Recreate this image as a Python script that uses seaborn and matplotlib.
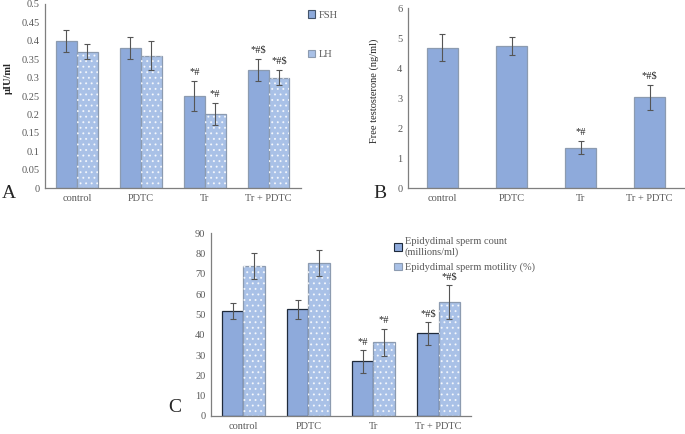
import matplotlib
matplotlib.use("Agg")
import matplotlib.pyplot as plt
import matplotlib.patches as mpatches
import numpy as np
import pandas as pd
import seaborn as sns

groups = ["control", "PDTC", "Tr", "Tr + PDTC"]

# panel A: gonadotropins (µIU/ml)
fsh = [0.40, 0.38, 0.25, 0.32]
fsh_err = [0.03, 0.03, 0.04, 0.03]
lh = [0.37, 0.36, 0.20, 0.30]
lh_err = [0.02, 0.04, 0.03, 0.02]
fsh_marks = ["", "", "*#", "*#$"]
lh_marks = ["", "", "*#", "*#$"]

# panel B: free testosterone (ng/ml)
testo = [4.67, 4.72, 1.34, 3.03]
testo_err = [0.45, 0.30, 0.22, 0.42]
testo_marks = ["", "", "*#", "*#$"]

# panel C: epididymal sperm
count = [51.7, 52.5, 26.9, 40.7]
count_err = [4.0, 4.5, 5.5, 5.5]
motility = [73.7, 75.4, 36.3, 56.0]
motility_err = [6.4, 6.2, 6.7, 8.4]
count_marks = ["", "", "*#", "*#$"]
motility_marks = ["", "", "*#", "*#$"]

sns.set_theme(style="white")
plt.rcParams["font.family"] = ["Liberation Serif", "DejaVu Serif"]
plt.rcParams["hatch.linewidth"] = 0.7

SOLID = "#8eaadb"
DOTTED = "#a9c1e7"
GREY = "#595959"
FS = 7.5
DOTS = "..."


def fmt(v, pos):
    return "%g" % round(v, 3)


def style_axes(ax, ymax, step):
    ax.set_ylim(0, ymax)
    ax.set_yticks(np.arange(0, ymax + step / 2, step))
    ax.yaxis.set_major_formatter(plt.FuncFormatter(fmt))
    ax.set_xlim(-0.5, 3.5)
    sns.despine(ax=ax)
    for s in ["left", "bottom"]:
        ax.spines[s].set_color("#7f7f7f")
        ax.spines[s].set_linewidth(0.9)
    ax.tick_params(axis="both", length=0, labelsize=FS, colors=GREY, pad=4)
    ax.set_xlabel("")
    ax.set_ylabel("")


def dot_overlay(ax, p):
    # white dots drawn on top, so the bar outline keeps its own colour
    ax.add_patch(mpatches.Rectangle((p.get_x(), p.get_y()), p.get_width(),
                                    p.get_height(), fill=False, lw=0,
                                    edgecolor=(1, 1, 1, 0.75), hatch=DOTS,
                                    zorder=p.get_zorder() + 0.1))


def grouped(ax, a, b, name_a, name_b, width, edge_a):
    df = pd.DataFrame({
        "group": groups * 2,
        "value": a + b,
        "series": [name_a] * 4 + [name_b] * 4,
    })
    sns.barplot(data=df, x="group", y="value", hue="series", order=groups,
                hue_order=[name_a, name_b], palette=[SOLID, DOTTED],
                width=width, errorbar=None, saturation=1, ax=ax, legend=False)
    bars = list(ax.patches[:8])
    for i, p in enumerate(bars):
        p.set_linewidth(0.9)
        if i < 4:
            p.set_edgecolor(edge_a)
        else:
            p.set_edgecolor("#8c9bb0")
            dot_overlay(ax, p)
    return bars


def add_err(ax, bars, vals, errs, marks, offset):
    for p, v, e, m in zip(bars, vals, errs, marks):
        cx = p.get_x() + p.get_width() / 2
        ax.errorbar(cx, v, yerr=e, fmt="none", ecolor="#555555",
                    elinewidth=0.8, capsize=2.5, capthick=0.8, zorder=5)
        if m:
            ax.text(cx, v + e + offset, m, ha="center", va="bottom",
                    fontsize=FS, color="#222222")


def legend_handles(edge_a):
    return [mpatches.Patch(facecolor=SOLID, edgecolor=edge_a, lw=0.8),
            mpatches.Patch(facecolor=DOTTED, edgecolor="#8c9bb0", lw=0.8)]


fig = plt.figure(figsize=(6.85, 4.34), dpi=100)

# ---- A
axA = fig.add_axes([0.0657, 0.5668, 0.373, 0.424])
bars = grouped(axA, fsh, lh, "FSH", "LH", 0.654, "#8c9bb0")
add_err(axA, bars[:4], fsh, fsh_err, fsh_marks, 0.012)
add_err(axA, bars[4:], lh, lh_err, lh_marks, 0.012)
style_axes(axA, 0.5, 0.05)
axA.set_ylabel("µIU/ml", fontsize=FS, fontweight="bold")
axA.yaxis.set_label_coords(-0.125, 0.60)
fig.legend(legend_handles("#44546a"), ["FSH", "LH"], loc="upper left",
           bbox_to_anchor=(0.436, 0.998), frameon=False, fontsize=FS,
           labelspacing=2.9, handlelength=0.7, handleheight=0.7,
           handletextpad=0.3, labelcolor=GREY)
fig.text(0.002, 0.553, "A", fontsize=14, va="center")

# ---- B
axB = fig.add_axes([0.5956, 0.5668, 0.4030, 0.4147])
sns.barplot(x=groups, y=testo, order=groups, color=SOLID, saturation=1,
            width=0.46, errorbar=None, ax=axB)
for p in axB.patches:
    p.set_edgecolor("#8c9bb0")
    p.set_linewidth(0.9)
add_err(axB, axB.patches[:4], testo, testo_err, testo_marks, 0.15)
style_axes(axB, 6, 1)
axB.set_ylabel("Free testosterone (ng/ml)", fontsize=FS)
axB.yaxis.set_label_coords(-0.105, 0.54)
fig.text(0.545, 0.553, "B", fontsize=14, va="center")

# ---- C
axC = fig.add_axes([0.308, 0.0415, 0.3796, 0.421])
bars = grouped(axC, count, motility, "count", "motility", 0.65, "#1f2a3a")
add_err(axC, bars[:4], count, count_err, count_marks, 1.8)
add_err(axC, bars[4:], motility, motility_err, motility_marks, 1.8)
style_axes(axC, 90, 10)
fig.legend(legend_handles("#1f2a3a"),
           ["Epidydimal sperm count\n(millions/ml)",
            "Epidydimal sperm motility (%)"],
           loc="upper left", bbox_to_anchor=(0.562, 0.475), frameon=False,
           fontsize=FS, labelspacing=0.5, handlelength=0.7, handleheight=0.7,
           handletextpad=0.3, labelcolor=GREY)
fig.text(0.245, 0.06, "C", fontsize=14, va="center")

fig.savefig("out.png", dpi=100)
